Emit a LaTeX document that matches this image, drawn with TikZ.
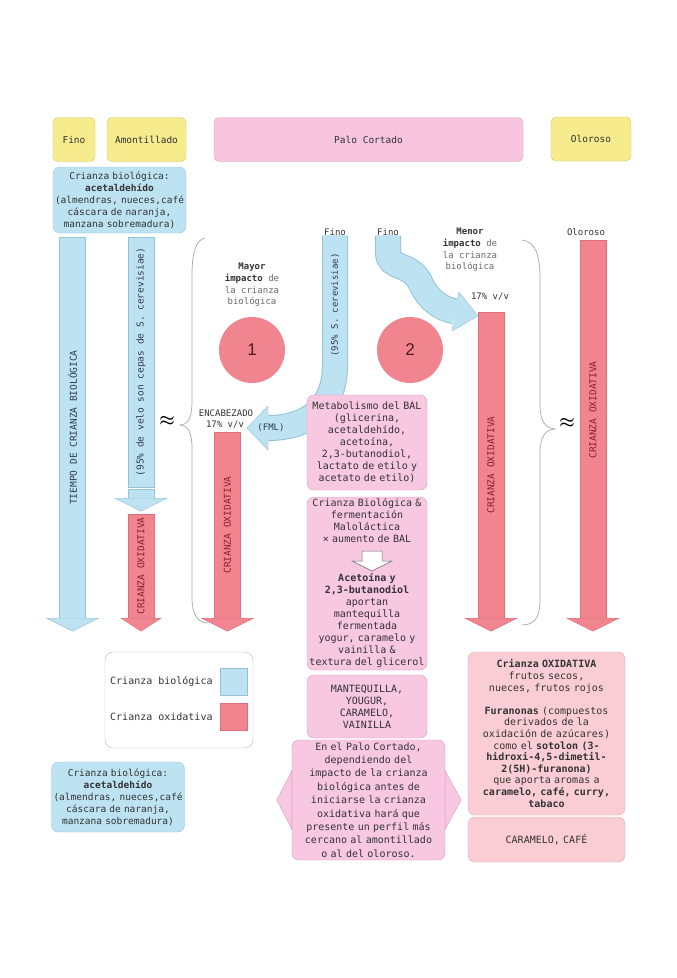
\documentclass[tikz,border=0pt]{standalone}
\usepackage{fontspec}
\setmainfont{DejaVu Sans Mono}
\newfontfamily\numfont{Liberation Sans}
\usetikzlibrary{calc}
\definecolor{vino}{HTML}{F6EC8E}
\definecolor{vinoline}{HTML}{D2C560}
\definecolor{palo}{HTML}{F7C5DD}
\definecolor{paloline}{HTML}{E0A3C1}
\definecolor{bio}{HTML}{BDE2F2}
\definecolor{bioline}{HTML}{93C3D8}
\definecolor{oxi}{HTML}{F0848F}
\definecolor{oxiline}{HTML}{DE6E7B}
\definecolor{bal}{HTML}{F8C7E0}
\definecolor{balline}{HTML}{D49DBC}
\definecolor{aroma}{HTML}{FACDD4}
\definecolor{aromaline}{HTML}{E2A8B1}
\definecolor{ink}{HTML}{333333}
\definecolor{soft}{HTML}{6A6A6A}
\definecolor{oxink}{HTML}{8A1F30}
\definecolor{bioink}{HTML}{2C3D55}
\definecolor{numink}{HTML}{4A1E22}
\definecolor{braceline}{HTML}{A8A8A8}
\definecolor{legline}{HTML}{B8B8B8}
\tikzset{txt/.style={font=\fontsize{10}{12}\selectfont,text=ink,align=center,inner sep=0pt},
  small/.style={txt,font=\fontsize{9}{11.7}\selectfont},
  tag/.style={txt,font=\fontsize{9.5}{12}\selectfont,rounded corners=5,fill=vino,draw=vinoline,minimum height=44},
  palotag/.style={tag,fill=palo,draw=paloline},
  biobox/.style={txt,font=\fontsize{9.5}{12}\selectfont,rounded corners=7,fill=bio,draw=bioline,text width=133,minimum height=66},
  balbox/.style={txt,rounded corners=7,fill=bal,draw=balline,text width=120},
  aromabox/.style={txt,rounded corners=7,fill=aroma,draw=aromaline,text width=157},
  biobar/.style={txt,font=\fontsize{9.5}{12}\selectfont,fill=bio,draw=bioline,minimum width=26,text=bioink},
  oxbar/.style={biobar,fill=oxi,draw=oxiline,text=oxink},
  biohead/.style={fill=bio,draw=bioline},oxhead/.style={fill=oxi,draw=oxiline},
  numdot/.style={circle,fill=oxi,minimum size=66,inner sep=0pt,font=\numfont\fontsize{17}{17}\selectfont,text=numink},
  brace/.style={draw=braceline,line width=0.7},
  approx/.style={font=\fontsize{18}{18}\selectfont\boldmath,inner sep=0pt},
  pipe/.style={draw=bio,line width=24,preaction={draw=bioline,line width=26}},
  swatch/.style={minimum size=27,inner sep=0pt}}
\newcommand{\headdown}[3][26]{\filldraw[#3] ($(#2.south)+(-#1,0)$) -- ($(#2.south)+(#1,0)$) -- ($(#2.south)+(0,13)$) -- cycle;}

\begin{document}
\begin{tikzpicture}[x=1pt,y=-1pt]
\fill[white] (0,0) rectangle (677,978);
\useasboundingbox (0,0) rectangle (677,978);
\node[tag,minimum width=42] (fino) at (74,139.5) {Fino};
\node[tag,minimum width=79] (amont) at (146.5,139.5) {Amontillado};
\node[palotag,minimum width=309] (palo) at (368.5,139.5) {Palo Cortado};
\node[tag,minimum width=80] (oloroso) at (591,139) {Oloroso};
\node[biobox] (bioA) at (119.5,200) {Crianza biológica:\\\textbf{acetaldehído}\\(almendras, nueces,café\\cáscara de naranja,\\manzana sobremadura)};
% columnas
\node[biobar,minimum height=381] (tiempo) at (72.5,427.5) {\rotatebox{90}{TIEMPO DE CRIANZA BIOLÓGICA}};
\headdown{tiempo}{biohead}
\node[biobar,minimum height=250] (velo) at (141,362) {\rotatebox{90}{(95\% de velo son cepas de S. cerevisiae)}};
\node[biobar,minimum height=9] (velohead) at (141,493.5) {};
\headdown{velohead}{biohead}
\node[oxbar,minimum height=104] (oxA) at (141,566) {\rotatebox{90}{CRIANZA OXIDATIVA}};
\headdown[20]{oxA}{oxhead}
\node[small] (encab) at (226,413) {ENCABEZADO};
\node[small] (pctA) at (225,424.5) {17\% v/v};
\node[oxbar,minimum height=186] (oxB) at (227.5,525) {\rotatebox{90}{CRIANZA OXIDATIVA}};
\headdown{oxB}{oxhead}
\node[small] (pctB) at (490,297) {17\% v/v};
\node[oxbar,minimum height=306] (oxC) at (491,465) {\rotatebox{90}{CRIANZA OXIDATIVA}};
\headdown{oxC}{oxhead}
\node[small] (olab) at (586,232) {Oloroso};
\node[oxbar,minimum height=378] (oxD) at (593,429) {};
\node[txt,font=\fontsize{9.5}{12}\selectfont,text=oxink] (oxDtxt) at (oxD.center|-0,410) {\rotatebox{90}{CRIANZA OXIDATIVA}};
\headdown{oxD}{oxhead}
\node[approx] (aproxA) at (167,421) {$\approx$};
\node[approx] (aproxB) at (567,423) {$\approx$};
\draw[brace] (205,238) .. controls (196,240) and (192,252) .. (192,275) -- (192,402) .. controls (192,419) and (187,425) .. (180,425) .. controls (187,425) and (192,431) .. (192,448) -- (192,598) .. controls (192,615) and (198,623) .. (208,623);
\draw[brace] (522,240) .. controls (536,242) and (540,255) .. (540,280) -- (540,405) .. controls (540,422) and (546,429) .. (556,429) .. controls (546,429) and (540,436) .. (540,453) -- (540,600) .. controls (540,618) and (534,625) .. (522,625);
% vias del fino
\node[small] (mayor) at (252,285) {\textbf{Mayor}\\\textbf{impacto} {\color{soft}de}\\{\color{soft}la crianza}\\{\color{soft}biológica}};
\node[small] (menor) at (470,250) {\textbf{Menor}\\\textbf{impacto} {\color{soft}de}\\{\color{soft}la crianza}\\{\color{soft}biológica}};
\node[numdot] (uno) at (252,350) {1};
\node[numdot] (dos) at (410,350) {2};
\node[small] (finoA) at (335,232) {Fino};
\node[small] (finoB) at (388,232) {Fino};
\coordinate (hA) at (268,428);
\coordinate (hB) at (455.5,311.5);
\draw[pipe] (finoA.south) -- (335,365) .. controls (335,410) and (305,428) .. (hA);
\fill[bio] ($(hA)+(0,-22)$) -- ($(hA)+(-21,0)$) -- ($(hA)+(0,22)$) -- cycle;
\draw[bioline] ($(hA)+(0,-13)$) -- ($(hA)+(0,-22)$) -- ($(hA)+(-21,0)$) -- ($(hA)+(0,22)$) -- ($(hA)+(0,13)$);
\node[small,text=bioink] (sacch) at (335,305) {\rotatebox{90}{(95\% S. cerevisiae)}};
\node[small,text=bioink] (fml) at (271,428) {(FML)};
\draw[pipe] (finoB.south) -- (388,252) .. controls (388,270) and (410,262) .. (420,282) .. controls (428,300) and (440.7,308.8) .. (hB);
\fill[bio] (459,292) -- (478,316) -- (452,331) -- cycle;
\draw[bioline] (457.8,298.7) -- (459,292) -- (478,316) -- (452,331) -- (453.2,324.3);
% cuadros centrales
\node[balbox,minimum height=95] (metab) at (367,442.5) {Metabolismo del BAL\\(glicerina,\\acetaldehído,\\acetoína,\\2,3-butanodiol,\\lactato de etilo y\\acetato de etilo)};
\node[balbox,minimum height=173] (crbio) at (367,583.5) {Crianza Biológica \&\\fermentación\\Maloláctica\\× aumento de BAL\\[27pt]\textbf{Acetoína y}\\\textbf{2,3-butanodiol}\\aportan\\mantequilla\\fermentada\\yogur, caramelo y\\vainilla \&\\textura del glicerol};
\filldraw[fill=white,draw=soft,line width=0.5] (362,551) -- (382,551) -- (382,561) -- (392,561) -- (372,571) -- (352,561) -- (362,561) -- cycle;
\node[balbox,minimum height=63] (mante) at (367,706.5) {MANTEQUILLA,\\YOUGUR,\\CARAMELO,\\VAINILLA};
\node[balbox,text width=153,minimum height=120,font=\fontsize{10}{13.4}\selectfont] (perfil) at (368.5,800) {En el Palo Cortado,\\dependiendo del\\impacto de la crianza\\biológica antes de\\iniciarse la crianza\\oxidativa hará que\\presente un perfil más\\cercano al amontillado\\o al del oloroso.};
\filldraw[fill=bal,draw=balline] ($(perfil.west)+(0,-29)$) -- ($(perfil.west)+(-15,0)$) -- ($(perfil.west)+(0,29)$) -- cycle;
\filldraw[fill=bal,draw=balline] ($(perfil.east)+(0,-29)$) -- ($(perfil.east)+(16,0)$) -- ($(perfil.east)+(0,29)$) -- cycle;
% leyenda
\node[draw=legline,fill=white,rounded corners=8,minimum width=148,minimum height=96] (leyenda) at (179,700) {};
\node[txt,anchor=west] (legbio) at (110,682) {Crianza biológica};
\node[txt,anchor=west] (legox) at (110,717) {Crianza oxidativa};
\node[swatch,fill=bio,draw=bioline] (swbio) at (233.5,681.5) {};
\node[swatch,fill=oxi,draw=oxiline] (swox) at (233.5,716.5) {};
\node[biobox,minimum height=70] (bioB) at (118,797) {Crianza biológica:\\\textbf{acetaldehído}\\(almendras, nueces,café\\cáscara de naranja,\\manzana sobremadura)};
% aromas oxidativos
\node[aromabox,minimum height=163,font=\fontsize{10}{11.6}\selectfont] (oxaroma) at (546.5,733.5) {\textbf{Crianza OXIDATIVA}\\frutos secos,\\nueces, frutos rojos\\[11.6pt]\textbf{Furanonas} (compuestos\\derivados de la\\oxidación de azúcares)\\como el \textbf{sotolon (3-}\\\textbf{hidroxi-4,5-dimetil-}\\\textbf{2(5H)-furanona)}\\que aporta aromas a\\\textbf{caramelo, café, curry,}\\\textbf{tabaco}};
\node[aromabox,minimum height=45] (caramelo) at (546.5,839.5) {CARAMELO, CAFÉ};
\end{tikzpicture}
\end{document}
